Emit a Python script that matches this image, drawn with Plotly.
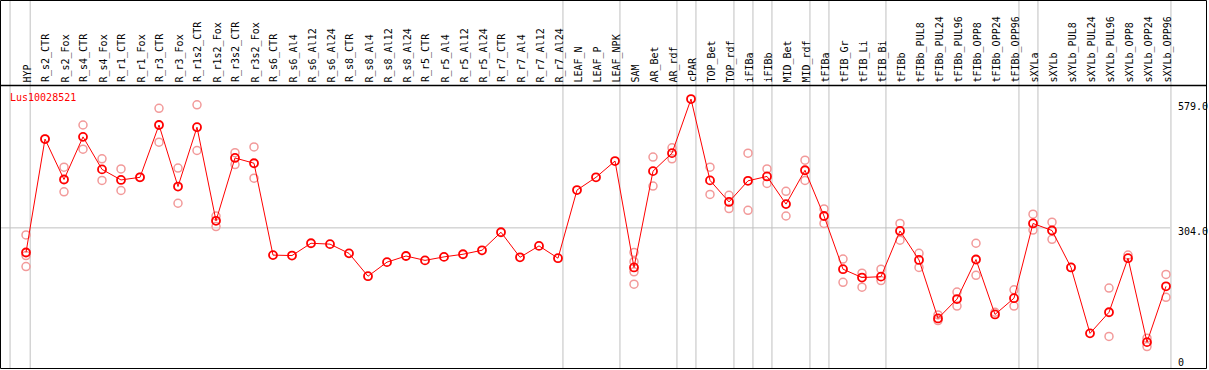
import plotly.graph_objects as go

W, H = 1209, 370

categories = ["HYP", "R_s2_CTR", "R_s2_Fox", "R_s4_CTR", "R_s4_Fox", "R_r1_CTR", "R_r1_Fox",
              "R_r3_CTR", "R_r3_Fox", "R_r1s2_CTR", "R_r1s2_Fox", "R_r3s2_CTR", "R_r3s2_Fox",
              "R_s6_CTR", "R_s6_Al4", "R_s6_Al12", "R_s6_Al24", "R_s8_CTR", "R_s8_Al4",
              "R_s8_Al12", "R_s8_Al24", "R_r5_CTR", "R_r5_Al4", "R_r5_Al12", "R_r5_Al24",
              "R_r7_CTR", "R_r7_Al4", "R_r7_Al12", "R_r7_Al24", "LEAF_N", "LEAF_P", "LEAF_NPK",
              "SAM", "AR_Bet", "AR_rdf", "cPAR", "TOP_Bet", "TOP_rdf", "iFIBa", "iFIBb",
              "MID_Bet", "MID_rdf", "tFIBa", "tFIB_Gr", "tFIB_Li", "tFIB_Bi", "tFIBb",
              "tFIBb_PUL8", "tFIBb_PUL24", "tFIBb_PUL96", "tFIBb_OPP8", "tFIBb_OPP24",
              "tFIBb_OPP96", "sXYLa", "sXYLb", "sXYLb_PUL8", "sXYLb_PUL24", "sXYLb_PUL96",
              "sXYLb_OPP8", "sXYLb_OPP24", "sXYLb_OPP96"]

mean_values = [248, 506, 414, 511, 437, 413, 419, 538, 398, 533, 320, 463, 451,
               242, 241, 269, 267, 246, 194, 226, 240, 230, 238, 244, 253,
               294, 237, 263, 235, 390, 419, 456,
               214, 433, 474, 597, 412, 363, 411, 421, 358, 435, 331,
               210, 191, 193, 297, 231, 98, 142, 232, 107, 144,
               314, 298, 214, 64, 112, 235, 44, 171]

# replicate measurements: (category, value)
rep_cats = ["HYP", "HYP", "HYP", "R_s2_CTR",
            "R_s2_Fox", "R_s2_Fox", "R_s4_CTR", "R_s4_CTR", "R_s4_Fox", "R_s4_Fox",
            "R_r1_CTR", "R_r1_CTR", "R_r1_Fox", "R_r3_CTR", "R_r3_CTR", "R_r3_Fox", "R_r3_Fox",
            "R_r1s2_CTR", "R_r1s2_CTR", "R_r1s2_Fox", "R_r1s2_Fox", "R_r3s2_CTR", "R_r3s2_CTR",
            "R_r3s2_Fox", "R_r3s2_Fox",
            "SAM", "SAM", "SAM", "SAM", "AR_Bet", "AR_Bet", "AR_rdf", "AR_rdf",
            "TOP_Bet", "TOP_Bet", "TOP_rdf", "TOP_rdf", "iFIBa", "iFIBa", "iFIBb", "iFIBb",
            "MID_Bet", "MID_Bet", "MID_rdf", "MID_rdf", "tFIBa", "tFIBa",
            "tFIB_Gr", "tFIB_Gr", "tFIB_Li", "tFIB_Li", "tFIB_Bi", "tFIB_Bi",
            "tFIBb", "tFIBb", "tFIBb_PUL8", "tFIBb_PUL8", "tFIBb_PUL24", "tFIBb_PUL24",
            "tFIBb_PUL96", "tFIBb_PUL96", "tFIBb_OPP8", "tFIBb_OPP8", "tFIBb_OPP24",
            "tFIBb_OPP96", "tFIBb_OPP96", "sXYLa", "sXYLa", "sXYLb", "sXYLb",
            "sXYLb_PUL8", "sXYLb_PUL96", "sXYLb_PUL96", "sXYLb_OPP8",
            "sXYLb_OPP24", "sXYLb_OPP24", "sXYLb_OPP96", "sXYLb_OPP96"]
rep_values = [288, 241, 216, 506,
              442, 386, 538, 483, 461, 412,
              438, 389, 419, 576, 499, 440, 360,
              584, 480, 331, 307, 475, 448,
              488, 417,
              248, 227, 204, 176, 465, 399, 486, 461,
              442, 380, 378, 348, 474, 344, 438, 405,
              387, 331, 458, 412, 347, 314,
              233, 180, 201, 169, 210, 184,
              314, 276, 246, 214, 106, 93,
              158, 126, 269, 196, 112,
              163, 126, 335, 299, 317, 278,
              214, 167, 57, 242,
              53, 34, 198, 146]

# group separators placed after these categories
separators_after = ["HYP", "R_r7_Al24", "LEAF_NPK", "AR_rdf", "cPAR", "TOP_rdf", "iFIBa",
                    "iFIBb", "MID_rdf", "tFIBa", "tFIB_Bi", "tFIBb_OPP96", "sXYLa", "sXYLb_OPP96"]

y_tick_vals = [579, 304, 0]
y_tick_text = ["579.0", "304.0", "0"]
title_text = "Lus10028521"

idx = {c: i for i, c in enumerate(categories)}
xs = list(range(len(categories)))
rep_x = [idx[c] for c in rep_cats]

# pixel geometry
PX_PER_COL = 19.0
X0_PX = 26.0
Y0_PX = 361.5
PX_PER_UNIT = 0.4396
x_range = [-X0_PX / PX_PER_COL, (W - X0_PX) / PX_PER_COL]
y_range = [(Y0_PX - H) / PX_PER_UNIT, Y0_PX / PX_PER_UNIT]

def py(p):
    return 1 - p / H

def px(p):
    return p / W

FONT = "DejaVu Sans Mono"
RED = "#ff0000"
PINK = "#f29a9a"
GRID = "#c0c0c0"

fig = go.Figure()
fig.add_trace(go.Scatter(x=rep_x, y=rep_values, mode="markers",
                         marker=dict(symbol="circle-open", size=8, color=PINK,
                                     line=dict(width=1.5, color=PINK)),
                         hoverinfo="skip", showlegend=False))
fig.add_trace(go.Scatter(x=xs, y=mean_values, mode="lines+markers",
                         line=dict(color=RED, width=1),
                         marker=dict(symbol="circle-open", size=8, color=RED,
                                     line=dict(width=1.8, color=RED)),
                         showlegend=False))

shapes = []
# vertical separators
sep_positions = [-0.84] + [idx[c] + 0.26 for c in separators_after[1:]]
sep_positions.insert(1, idx["HYP"] + 0.22)
for xv in sep_positions:
    shapes.append(dict(type="line", xref="x", yref="paper", x0=xv, x1=xv,
                       y0=py(369), y1=1, line=dict(color=GRID, width=1), layer="below"))
# horizontal grid at middle tick
shapes.append(dict(type="line", xref="paper", yref="y", x0=0, x1=(1170) / W,
                   y0=304, y1=304, line=dict(color=GRID, width=1), layer="below"))
# frame
shapes.append(dict(type="rect", xref="paper", yref="paper", x0=px(0.5), x1=px(1206.5),
                   y0=py(368.5), y1=py(0.5), line=dict(color="black", width=1), layer="above"))
shapes.append(dict(type="line", xref="paper", yref="paper", x0=px(0.5), x1=px(1206.5),
                   y0=py(85.5), y1=py(85.5), line=dict(color="black", width=1.5), layer="above"))

annotations = []
for i, c in enumerate(categories):
    annotations.append(dict(x=i, y=py(83.5), xref="x", yref="paper", text=c, showarrow=False,
                            textangle=-90, xanchor="center", yanchor="bottom", xshift=1,
                            font=dict(family=FONT, size=10, color="black"),
                            borderpad=0))
annotations.append(dict(x=px(9), y=py(97), xref="paper", yref="paper", text=title_text,
                        showarrow=False, xanchor="left", yanchor="middle",
                        font=dict(family=FONT, size=10, color=RED), borderpad=0))
tick_shift = {579: 0, 304: -4, 0: -1}
for v, t in zip(y_tick_vals, y_tick_text):
    annotations.append(dict(x=px(1177), y=v, xref="paper", yref="y", text=t, showarrow=False,
                            xanchor="left", yanchor="middle", yshift=tick_shift[v],
                            font=dict(family=FONT, size=10, color="black"), borderpad=0))

fig.update_layout(width=W, height=H, margin=dict(l=0, r=0, t=0, b=0, pad=0),
                  paper_bgcolor="white", plot_bgcolor="white",
                  xaxis=dict(range=x_range, visible=False, fixedrange=True),
                  yaxis=dict(range=y_range, visible=False, fixedrange=True),
                  shapes=shapes, annotations=annotations, showlegend=False)

fig.write_html("out.html", config={"displayModeBar": False},
               post_script="document.body.style.margin='0';document.body.style.overflow='hidden';")
